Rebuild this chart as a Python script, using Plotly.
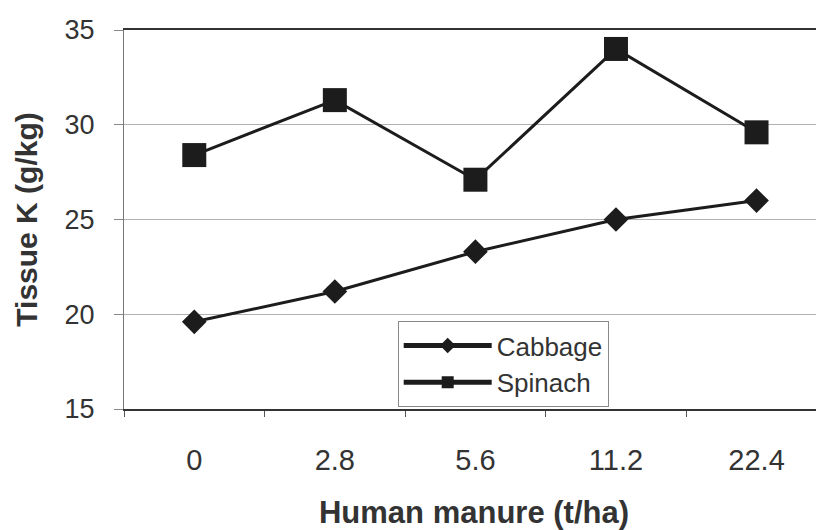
import plotly.graph_objects as go

rates = ["0", "2.8", "5.6", "11.2", "22.4"]
cabbage = [19.6, 21.2, 23.3, 25.0, 26.0]
spinach = [28.4, 31.3, 27.1, 34.0, 29.6]
y_ticks = [15, 20, 25, 30, 35]

ink = "#1c1c1c"
txt = "#333333"
font_family = "Liberation Sans, Arial, sans-serif"

fig = go.Figure()
fig.add_trace(go.Scatter(
    x=rates, y=cabbage, name="Cabbage", mode="lines+markers",
    line=dict(color=ink, width=3),
    marker=dict(symbol="diamond", size=19, color=ink),
))
fig.add_trace(go.Scatter(
    x=rates, y=spinach, name="Spinach", mode="lines+markers",
    line=dict(color=ink, width=3),
    marker=dict(symbol="square", size=24, color=ink),
))

# the page places the figure 8px in from the top-left corner
fig.update_layout(
    width=816, height=522,
    margin=dict(l=116, r=0, t=22, b=121),
    paper_bgcolor="white", plot_bgcolor="white",
    font=dict(family=font_family, size=27, color=txt),
    showlegend=True,
    legend=dict(
        x=0.391, y=0.232, xanchor="left", yanchor="top",
        bgcolor="white", bordercolor="#888888", borderwidth=1,
        font=dict(size=26, color=txt), itemwidth=88,
        itemsizing="constant", tracegroupgap=0,
    ),
)

fig.update_xaxes(
    type="category", range=[-0.5, 4.48], automargin=False,
    showline=True, linecolor="#333333", linewidth=2, mirror=True,
    ticks="outside", tickson="boundaries", ticklen=6, tickcolor="#555555",
    showgrid=False, ticklabelstandoff=24,
    tickfont=dict(size=29, color=txt),
    title=dict(text="<b>Human manure (t/ha)</b>", font=dict(size=31, color=txt), standoff=33),
)
fig.update_yaxes(
    range=[15, 35], tickvals=y_ticks, automargin=False,
    showline=True, linecolor="#777777", linewidth=1,
    ticks="outside", ticklen=9, tickcolor="#888888",
    showgrid=True, gridcolor="#b0b0b0", gridwidth=1,
    zeroline=False, ticklabelstandoff=14,
    tickfont=dict(size=27, color=txt),
    title=dict(text="<b>Tissue K (g/kg)</b>", font=dict(size=30, color=txt), standoff=18),
)

fig.write_html("out.html")
